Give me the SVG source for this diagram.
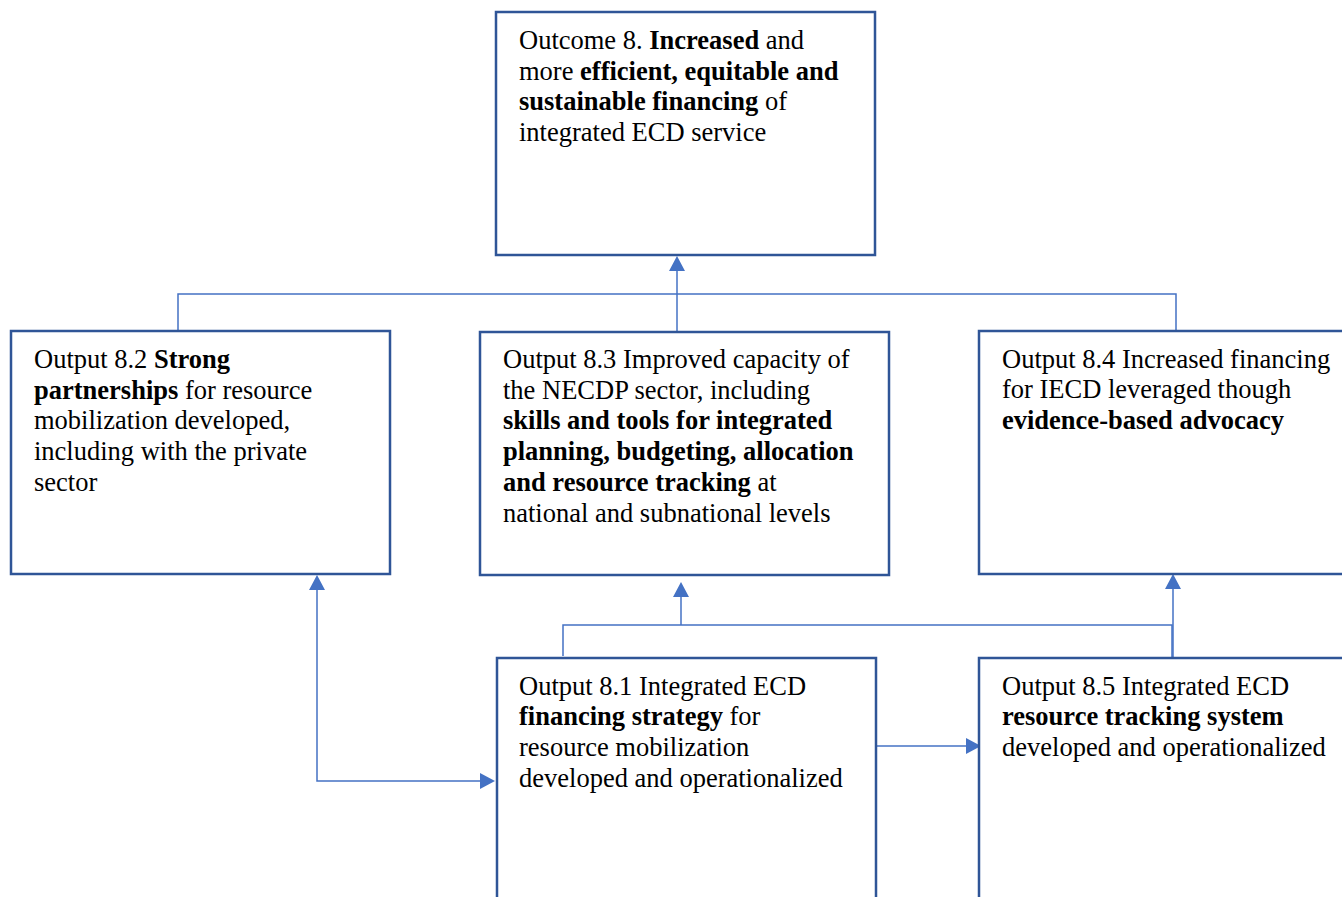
<svg xmlns="http://www.w3.org/2000/svg" width="1342" height="897" viewBox="0 0 1342 897">
  <style>
    .box { fill: #ffffff; stroke: #2F5597; stroke-width: 2.5; }
    .lbl { font-family: "Liberation Serif", "Times New Roman", serif; font-size: 26.5px; fill: #000000; }
    .b { font-weight: bold; }
    .conn { fill: none; stroke: #4472C4; stroke-width: 1.5; }
  </style>
  <rect width="1342" height="897" fill="#ffffff"/>

  <g id="connectors">
    <!-- top tier merges into the outcome -->
    <polyline class="conn" points="178,331 178,294 1176,294 1176,331"/>
    <line class="conn" x1="677" y1="331" x2="677" y2="270"/>
    <!-- bottom tier merges into output 8.3 -->
    <polyline class="conn" points="563,656 563,625 1172,625 1172,657"/>
    <line class="conn" x1="681" y1="625" x2="681" y2="597"/>
    <!-- 8.5 to 8.4 -->
    <line class="conn" x1="1173" y1="657" x2="1173" y2="588"/>
    <!-- 8.2 and 8.1 link -->
    <polyline class="conn" points="317,589 317,781 481,781"/>
    <!-- 8.1 to 8.5 -->
    <line class="conn" x1="877" y1="746" x2="967" y2="746"/>
    <!-- arrowheads -->
    <g fill="#4472C4">
      <polygon points="677,256 669,271 685,271"/>
      <polygon points="681,582 673,597 689,597"/>
      <polygon points="1173,574 1165,589 1181,589"/>
      <polygon points="317,575 309,590 325,590"/>
      <polygon points="495,781 480,773 480,789"/>
      <polygon points="981,746 966,738 966,754"/>
    </g>
  </g>

  <g id="outcome8">
    <rect class="box" x="496" y="12" width="379" height="243"/>
    <text class="lbl" x="519" y="49">Outcome 8. <tspan class="b">Increased</tspan> and</text>
    <text class="lbl" x="519" y="80">more <tspan class="b">efficient, equitable and</tspan></text>
    <text class="lbl" x="519" y="110"><tspan class="b">sustainable financing</tspan> of</text>
    <text class="lbl" x="519" y="141">integrated ECD service</text>
  </g>

  <g id="output82">
    <rect class="box" x="11" y="331" width="379" height="243"/>
    <text class="lbl" x="34" y="368">Output 8.2 <tspan class="b">Strong</tspan></text>
    <text class="lbl" x="34" y="399"><tspan class="b">partnerships</tspan> for resource</text>
    <text class="lbl" x="34" y="429">mobilization developed,</text>
    <text class="lbl" x="34" y="460">including with the private</text>
    <text class="lbl" x="34" y="491">sector</text>
  </g>

  <g id="output83">
    <rect class="box" x="480" y="332" width="409" height="243"/>
    <text class="lbl" x="503" y="368">Output 8.3 Improved capacity of</text>
    <text class="lbl" x="503" y="399">the NECDP sector, including</text>
    <text class="lbl b" x="503" y="429">skills and tools for integrated</text>
    <text class="lbl b" x="503" y="460">planning, budgeting, allocation</text>
    <text class="lbl" x="503" y="491"><tspan class="b">and resource tracking</tspan> at</text>
    <text class="lbl" x="503" y="522">national and subnational levels</text>
  </g>

  <g id="output84">
    <rect class="box" x="979" y="331" width="380" height="243"/>
    <text class="lbl" x="1002" y="368">Output 8.4 Increased financing</text>
    <text class="lbl" x="1002" y="398">for IECD leveraged though</text>
    <text class="lbl b" x="1002" y="429">evidence-based advocacy</text>
  </g>

  <g id="output81">
    <rect class="box" x="497" y="658" width="379" height="260"/>
    <text class="lbl" x="519" y="695">Output 8.1 Integrated ECD</text>
    <text class="lbl" x="519" y="725"><tspan class="b">financing strategy</tspan> for</text>
    <text class="lbl" x="519" y="756">resource mobilization</text>
    <text class="lbl" x="519" y="787">developed and operationalized</text>
  </g>

  <g id="output85">
    <rect class="box" x="979" y="658" width="380" height="260"/>
    <text class="lbl" x="1002" y="695">Output 8.5 Integrated ECD</text>
    <text class="lbl b" x="1002" y="725">resource tracking system</text>
    <text class="lbl" x="1002" y="756">developed and operationalized</text>
  </g>
</svg>
